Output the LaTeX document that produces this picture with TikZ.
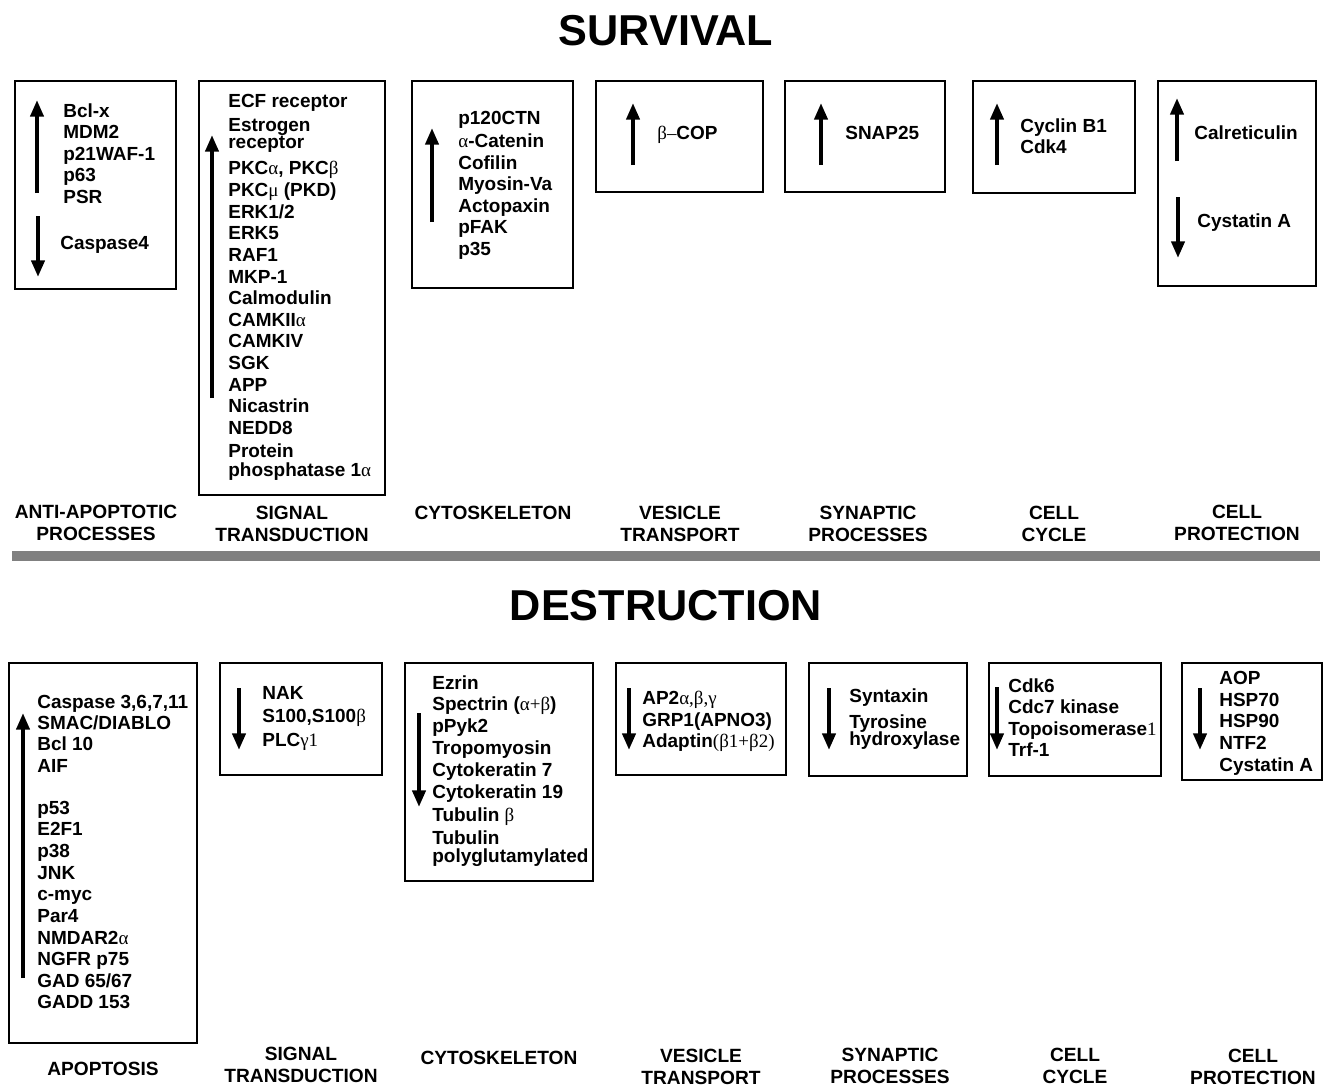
\documentclass[tikz,border=0pt]{standalone}
\usepackage{fontspec}
\setmainfont{Liberation Sans}
\newfontfamily\grfont{Liberation Serif}
\newcommand{\gk}[1]{{\grfont\mdseries #1}}
\usepackage{tikz}
\usetikzlibrary{arrows.meta}
\definecolor{bargray}{RGB}{128,128,128}

\begin{document}
\begin{tikzpicture}[x=0.02cm,y=-0.02cm,
  box/.style={draw,line width=1.1pt},
  arr/.style={line width=2.3pt,-{Triangle[length=9.5pt,width=7.4pt]}},
  lst/.style={anchor=north west,inner sep=0pt,align=left,font=\bfseries\fontsize{10.8}{12.3}\selectfont},
  cat/.style={anchor=north,inner sep=0pt,align=center,font=\bfseries\fontsize{10.9}{12.5}\selectfont},
  ttl/.style={inner sep=0pt,font=\bfseries\fontsize{24.6}{28}\selectfont}]

\useasboundingbox (0,0) rectangle (1323,1089);

\node[ttl] (surv) at (666,31) {SURVIVAL};
\node[ttl] (destr) at (666,606) {DESTRUCTION};
\fill[bargray] (12,551) rectangle (1320,561);

% survival
\draw[box] (15,81) rectangle (176,289);
\draw[arr] (37,193) -- (37,100);
\draw[arr] (38,216) -- (38,277);
\node[lst] (antiup) at (63,103) {Bcl-x\\MDM2\\p21WAF-1\\p63\\PSR};
\node[lst] (antidown) at (60,236) {Caspase4};

\draw[box] (199,81) rectangle (385,495);
\draw[arr] (212,398) -- (212,135);
\node[lst] (sigup) at (228,94) {ECF receptor\\[1.3pt] Estrogen\\[-2.5pt] receptor\\[2.2pt]
  PKC\gk{α}, PKC\gk{β}\\[0.5pt] PKC\gk{μ} (PKD)\\ ERK1/2\\ ERK5\\ RAF1\\ MKP-1\\ Calmodulin\\
  CAMKII\gk{α}\\ CAMKIV\\ SGK\\ APP\\ Nicastrin\\ NEDD8\\[0.7pt] Protein\\[-1.5pt] phosphatase 1\gk{α}};

\draw[box] (412,81) rectangle (573,288);
\draw[arr] (432,222) -- (432,128);
\node[lst] (cytoup) at (458,111) {p120CTN\\[0.7pt] \gk{α}-Catenin\\ Cofilin\\ Myosin-Va\\ Actopaxin\\ pFAK\\ p35};

\draw[box] (596,81) rectangle (763,192);
\draw[arr] (633,165) -- (633,103);
\node[lst] (vesup) at (657,126) {\gk{β–}COP};

\draw[box] (785,81) rectangle (945,192);
\draw[arr] (821,165) -- (821,103);
\node[lst] (synup) at (845,126) {SNAP25};

\draw[box] (973,81) rectangle (1135,193);
\draw[arr] (997,165) -- (997,103);
\node[lst] (cycup) at (1020,118) {Cyclin B1\\ Cdk4};

\draw[box] (1158,81) rectangle (1316,286);
\draw[arr] (1177,161) -- (1177,98);
\draw[arr] (1178,197) -- (1178,258);
\node[lst] (protup) at (1194,125) {Calreticulin};
\node[lst] (protdown) at (1197,213) {Cystatin A};

\node[cat] (antilab) at (96,505) {ANTI-APOPTOTIC\\PROCESSES};
\node[cat] (siglab) at (292,506) {SIGNAL\\TRANSDUCTION};
\node[cat] (cytolab) at (493,506) {CYTOSKELETON};
\node[cat] (veslab) at (680,506) {VESICLE\\TRANSPORT};
\node[cat] (synlab) at (868,506) {SYNAPTIC\\PROCESSES};
\node[cat] (cyclab) at (1054,506) {CELL\\CYCLE};
\node[cat] (protlab) at (1237,505) {CELL\\PROTECTION};

% destruction
\draw[box] (9,663) rectangle (197,1043);
\draw[arr] (23,978) -- (23,713);
\node[lst] (apoup) at (37,695) {Caspase 3,6,7,11\\[-0.5pt] SMAC/DIABLO\\ Bcl 10\\ AIF\\[11.5pt]
  p53\\ E2F1\\ p38\\ JNK\\ c-myc\\ Par4\\ NMDAR2\gk{α}\\ NGFR p75\\ GAD 65/67\\ GADD 153};

\draw[box] (220,663) rectangle (382,775);
\draw[arr] (239,688) -- (239,750);
\node[lst] (sigdown) at (262,686) {NAK\\[1pt] S100,S100\gk{β}\\[1pt] PLC\gk{γ1}};

\draw[box] (405,663) rectangle (593,881);
\draw[arr] (419,713) -- (419,807);
\node[lst] (cytodown) at (432,675) {Ezrin\\ Spectrin (\gk{α+β})\\ pPyk2\\[0.5pt] Tropomyosin\\ Cytokeratin 7\\
  Cytokeratin 19\\[1pt] Tubulin \gk{β}\\[1pt] Tubulin\\[-2.2pt] polyglutamylated};

\draw[box] (616,663) rectangle (786,775);
\draw[arr] (629,688) -- (629,750);
\node[lst] (vesdown) at (642,691) {AP2\gk{α,β,γ}\\ GRP1(APNO3)\\ Adaptin\gk{(β1+β2)}};

\draw[box] (809,663) rectangle (967,776);
\draw[arr] (829,688) -- (829,750);
\node[lst] (syndown) at (849,688) {Syntaxin\\[2.6pt] Tyrosine\\[-2.5pt] hydroxylase};

\draw[box] (989,663) rectangle (1161,776);
\draw[arr] (997,687) -- (997,750);
\node[lst] (cycdown) at (1008,678) {Cdk6\\ Cdc7 kinase\\ Topoisomerase\gk{1}\\ Trf-1};

\draw[box] (1182,663) rectangle (1322,780);
\draw[arr] (1200,688) -- (1200,750);
\node[lst] (protdown2) at (1219,671) {AOP\\ HSP70\\ HSP90\\ NTF2\\ Cystatin A};

\node[cat] (apolab) at (103,1062) {APOPTOSIS};
\node[cat] (siglab2) at (301,1047) {SIGNAL\\TRANSDUCTION};
\node[cat] (cytolab2) at (499,1051) {CYTOSKELETON};
\node[cat] (veslab2) at (701,1049) {VESICLE\\TRANSPORT};
\node[cat] (synlab2) at (890,1048) {SYNAPTIC\\PROCESSES};
\node[cat] (cyclab2) at (1075,1048) {CELL\\CYCLE};
\node[cat] (protlab2) at (1253,1049) {CELL\\PROTECTION};

\end{tikzpicture}
\end{document}
